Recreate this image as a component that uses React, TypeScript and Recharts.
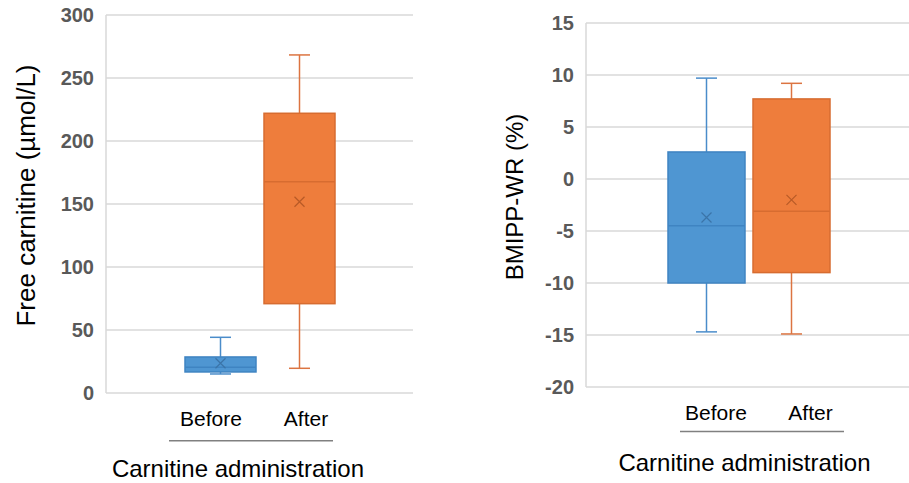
import React from "react";
import { BarChart, Bar, XAxis, YAxis, CartesianGrid } from "recharts";

const categories = ["Carnitine administration"];
const groups = ["Before", "After"];

// Free carnitine (µmol/L)
const carnitineMin = [15.1, 19.6];
const carnitineQ1 = [16.7, 70.9];
const carnitineMedian = [20.4, 167.7];
const carnitineQ3 = [28.6, 222.0];
const carnitineMax = [44.2, 268.3];
const carnitineMean = [23.6, 151.8];
const carnitineTicks = [0, 50, 100, 150, 200, 250, 300];

// BMIPP-WR (%)
const bmippMin = [-14.7, -14.9];
const bmippQ1 = [-10.0, -9.0];
const bmippMedian = [-4.5, -3.1];
const bmippQ3 = [2.6, 7.7];
const bmippMax = [9.7, 9.2];
const bmippMean = [-3.7, -2.0];
const bmippTicks = [-20, -15, -10, -5, 0, 5, 10, 15];

const palette: Record<string, { fill: string; edge: string; line: string; mark: string }> = {
  Before: { fill: "#4f96d2", edge: "#3f84c2", line: "#4a8cca", mark: "#3b74a8" },
  After: { fill: "#ee7d3c", edge: "#d76c30", line: "#dc7441", mark: "#b85a26" },
};

const FONT = "'Liberation Sans', Arial, sans-serif";

function buildRows(min: number[], q1: number[], med: number[], q3: number[], max: number[], mean: number[]) {
  const row: any = { category: categories[0] };
  groups.forEach((g, i) => {
    row[g] = { min: min[i], q1: q1[i], median: med[i], q3: q3[i], max: max[i], mean: mean[i] };
  });
  return [row];
}

const carnitineRows = buildRows(carnitineMin, carnitineQ1, carnitineMedian, carnitineQ3, carnitineMax, carnitineMean);
const bmippRows = buildRows(bmippMin, bmippQ1, bmippMedian, bmippQ3, bmippMax, bmippMean);

// the bar spans min..max, everything inside is placed along that span
const makeBoxShape = (group: string) => (props: any) => {
  const { x, y, width, height, payload } = props;
  const s = payload[group];
  const c = palette[group];
  const yTop = y;
  const yBot = y + height;
  const py = (v: number) => yBot + ((v - s.min) / (s.max - s.min)) * (yTop - yBot);
  const cx = x + width / 2;
  const cap = 10.5;
  const m = 5;
  const my = py(s.mean);
  return (
    <g>
      <line x1={cx} x2={cx} y1={py(s.max)} y2={py(s.q3)} stroke={c.line} strokeWidth={1.5} />
      <line x1={cx} x2={cx} y1={py(s.q1)} y2={py(s.min)} stroke={c.line} strokeWidth={1.5} />
      <line x1={cx - cap} x2={cx + cap} y1={py(s.max)} y2={py(s.max)} stroke={c.line} strokeWidth={1.5} />
      <line x1={cx - cap} x2={cx + cap} y1={py(s.min)} y2={py(s.min)} stroke={c.line} strokeWidth={1.5} />
      <rect x={x} y={py(s.q3)} width={width} height={py(s.q1) - py(s.q3)} fill={c.fill} stroke={c.edge} strokeWidth={1.5} />
      <line x1={x} x2={x + width} y1={py(s.median)} y2={py(s.median)} stroke={c.edge} strokeWidth={1.5} />
      <path d={`M${cx - m},${my - m}L${cx + m},${my + m}M${cx + m},${my - m}L${cx - m},${my + m}`} stroke={c.mark} strokeWidth={1.2} fill="none" />
    </g>
  );
};

type TickLayout = {
  beforeDx: number;
  afterDx: number;
  labelDy: number;
  lineDy: number;
  lineX1: number;
  lineX2: number;
  titleDx: number;
  titleDy: number;
};

function GroupTick(props: any) {
  const { x, y, payload, layout } = props;
  const l: TickLayout = layout;
  return (
    <g fontFamily={FONT}>
      <text x={x + l.beforeDx} y={y + l.labelDy} textAnchor="middle" fontSize={21} fill="#000">{groups[0]}</text>
      <text x={x + l.afterDx} y={y + l.labelDy} textAnchor="middle" fontSize={21} fill="#000">{groups[1]}</text>
      <line x1={x + l.lineX1} x2={x + l.lineX2} y1={y + l.lineDy} y2={y + l.lineDy} stroke="#808080" strokeWidth={1.5} />
      <text x={x + l.titleDx} y={y + l.titleDy} textAnchor="middle" fontSize={24} fill="#000">{payload.value}</text>
    </g>
  );
}

type PanelProps = {
  rows: any[];
  ticks: number[];
  title: string;
  titleX: number;
  titleDy: number;
  titleSize: number;
  width: number;
  margin: { top: number; right: number; left: number; bottom: number };
  yWidth: number;
  xHeight: number;
  barSize: number;
  tickLayout: TickLayout;
};

function BoxPanel(p: PanelProps) {
  return (
    <BarChart width={p.width} height={483} data={p.rows} margin={p.margin} barSize={p.barSize} barGap={8}>
      <CartesianGrid vertical={false} stroke="#d9d9d9" strokeWidth={1.5} />
      <XAxis
        dataKey="category"
        axisLine={false}
        tickLine={false}
        tickSize={0}
        tickMargin={0}
        height={p.xHeight}
        interval={0}
        tick={<GroupTick layout={p.tickLayout} />}
      />
      <YAxis
        width={p.yWidth}
        domain={[p.ticks[0], p.ticks[p.ticks.length - 1]]}
        ticks={p.ticks}
        interval={0}
        axisLine={{ stroke: "#d9d9d9", strokeWidth: 1.5 }}
        tickLine={false}
        tickMargin={6}
        tick={{ fill: "#595959", fontSize: 20, fontWeight: "bold", fontFamily: FONT }}
        label={(lp: any) => {
          const vb = lp.viewBox || { x: 0, y: p.margin.top, height: 483 - p.margin.top - p.xHeight };
          const cy = vb.y + vb.height / 2 + p.titleDy;
          return (
            <text
              transform={`translate(${p.titleX}, ${cy}) rotate(-90)`}
              textAnchor="middle"
              dominantBaseline="central"
              fontSize={p.titleSize}
              fontFamily={FONT}
              fill="#000"
            >
              {p.title}
            </text>
          );
        }}
      />
      {groups.map((g) => (
        <Bar
          key={g}
          name={g}
          dataKey={(row: any) => [row[g].min, row[g].max]}
          fill={palette[g].fill}
          shape={makeBoxShape(g)}
          isAnimationActive={false}
        />
      ))}
    </BarChart>
  );
}

export default function App() {
  return (
    <div style={{ position: "absolute", left: 0, top: 0, width: 909, height: 483, overflow: "hidden", background: "#fff", fontFamily: FONT }}>
      <div style={{ position: "absolute", left: 0, top: 0 }}>
        <BoxPanel
          rows={carnitineRows}
          ticks={carnitineTicks}
          title="Free carnitine (µmol/L)"
          titleX={26}
          titleDy={-8.5}
          titleSize={26}
          width={440}
          margin={{ top: 15, right: 27, left: 0, bottom: 0 }}
          yWidth={106}
          xHeight={90}
          barSize={71}
          tickLayout={{ beforeDx: -48.5, afterDx: 46.5, labelDy: 33, lineDy: 47.7, lineX1: -90.5, lineX2: 73.5, titleDx: -21.5, titleDy: 84 }}
        />
      </div>
      <div style={{ position: "absolute", left: 460, top: 0 }}>
        <BoxPanel
          rows={bmippRows}
          ticks={bmippTicks}
          title="BMIPP-WR (%)"
          titleX={54}
          titleDy={-8}
          titleSize={24}
          width={460}
          margin={{ top: 23, right: 8, left: 0, bottom: 0 }}
          yWidth={126}
          xHeight={96}
          barSize={77}
          tickLayout={{ beforeDx: -33, afterDx: 61.5, labelDy: 32.5, lineDy: 44.4, lineX1: -69, lineX2: 95, titleDx: -4.5, titleDy: 84.3 }}
        />
      </div>
    </div>
  );
}
